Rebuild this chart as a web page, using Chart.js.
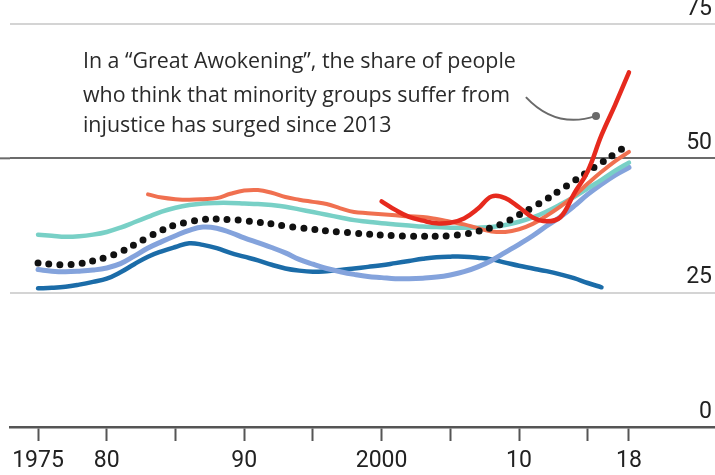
<!DOCTYPE html>
<html>
<head>
    <title>Great Awokening</title>
    <script src="https://cdn.jsdelivr.net/npm/chart.js"></script>
    <style>
        html, body { margin: 0; padding: 0; background: #fff; overflow: hidden; }
        /* a little taller than the window: the bottom of the x labels sits on the edge */
        .chart-wrap { width: 715px; height: 482px; position: relative; }
    </style>
</head>
<body>
    <div class="chart-wrap"><canvas id="myChart"></canvas></div>
    <script>
        // values, % of people
        const darkBlue = [25.8, 25.9, 26.1, 26.5, 27.0, 27.6, 28.8, 30.3, 31.7, 32.7, 33.5, 34.2, 33.9, 33.3, 32.4,
            31.7, 31.0, 30.2, 29.5, 29.1, 28.9, 29.0, 29.2, 29.5, 29.8, 30.1, 30.5, 30.9, 31.3, 31.6,
            31.7, 31.7, 31.5, 31.2, 30.6, 30.0, 29.5, 29.0, 28.4, 27.7, 26.8, 26.0];
        const lightBlue = [29.3, 29.0, 28.9, 29.0, 29.2, 29.6, 30.4, 31.8, 33.3, 34.5, 35.6, 36.6, 37.2, 37.0, 36.2,
            35.2, 34.3, 33.4, 32.4, 31.2, 30.3, 29.5, 28.9, 28.4, 28.0, 27.8, 27.6, 27.6, 27.7, 27.9,
            28.3, 28.9, 29.8, 31.0, 32.5, 34.0, 35.6, 37.4, 39.1, 41.1, 43.3, 45.2, 46.9, 48.3];
        const teal = [35.8, 35.6, 35.4, 35.5, 35.8, 36.3, 37.1, 38.1, 39.1, 40.1, 40.8, 41.3, 41.6, 41.7, 41.7,
            41.6, 41.5, 41.3, 41.0, 40.5, 40.0, 39.5, 39.0, 38.5, 38.2, 37.9, 37.7, 37.5, 37.3, 37.2,
            37.1, 37.1, 37.1, 37.2, 37.6, 38.2, 39.0, 40.1, 41.4, 42.8, 44.4, 46.0, 47.7, 49.2];
        // starts 1983
        const orange = [43.3, 42.7, 42.4, 42.3, 42.4, 42.6, 43.4, 44.0, 44.1, 43.6, 42.8, 42.3, 41.9, 41.5, 40.7,
            40.0, 39.8, 39.6, 39.4, 39.2, 39.1, 38.7, 38.2, 37.7, 37.0, 36.4, 36.3, 36.8, 37.8, 39.3,
            41.0, 43.0, 45.3, 47.5, 49.5, 51.2];
        // starts 2000
        const red = [42.0, 40.4, 39.1, 38.4, 37.9, 38.0, 38.8, 40.6, 42.9, 42.6, 40.9, 39.0, 38.3, 39.0, 43.4,
            47.6, 54.3, 60.0, 66.0];
        const average = [30.5, 30.3, 30.2, 30.4, 30.9, 31.6, 32.6, 33.9, 35.3, 36.6, 37.6, 38.2, 38.6, 38.7, 38.6,
            38.4, 38.1, 37.8, 37.4, 37.1, 36.8, 36.5, 36.3, 36.1, 35.9, 35.7, 35.6, 35.5, 35.5, 35.5,
            35.6, 35.9, 36.4, 37.1, 38.1, 39.5, 40.9, 42.4, 44.1, 45.8, 47.5, 49.2, 50.9, 52.6];

        const xTicks = [1975, 1980, 1985, 1990, 1995, 2000, 2005, 2010, 2015, 2018];
        const xLabels = { 1975: '1975', 1980: '80', 1990: '90', 2000: '2000', 2010: '10', 2018: '18' };
        const yTicks = [0, 25, 50, 75];

        const noteLines = ['In a \u201cGreat Awokening\u201d, the share of people',
            'who think that minority groups suffer from',
            'injustice has surged since 2013'];

        const toPoints = (start, vals) => vals.map((v, i) => ({ x: start + i, y: v }));

        const lineProps = {
            fill: false,
            tension: 0.4,
            pointRadius: 0,
            borderCapStyle: 'round',
        };
        const labelFont = { family: 'Roboto', size: 23, lineHeight: 1 };

        // annotation text and arrow
        const annotate = {
            id: 'annotate',
            afterDatasetsDraw(chart) {
                const { ctx, scales: { x, y } } = chart;
                ctx.save();
                ctx.fillStyle = '#2a2a2a';
                ctx.font = '21.4px "Open Sans"';
                ctx.textBaseline = 'alphabetic';
                ctx.textAlign = 'left';
                const tx = x.getPixelForValue(1978.27);
                const ty = [66.8, 60.5, 54.9];
                noteLines.forEach((t, i) => ctx.fillText(t, tx, y.getPixelForValue(ty[i])));

                ctx.strokeStyle = '#6a6a6a';
                ctx.lineWidth = 2;
                ctx.beginPath();
                ctx.moveTo(x.getPixelForValue(2010.5), y.getPixelForValue(61.4));
                ctx.quadraticCurveTo(x.getPixelForValue(2012.7), y.getPixelForValue(55.4),
                    x.getPixelForValue(2015.6), y.getPixelForValue(57.9));
                ctx.stroke();
                ctx.fillStyle = '#6a6a6a';
                ctx.beginPath();
                ctx.arc(x.getPixelForValue(2015.6), y.getPixelForValue(57.9), 4, 0, Math.PI * 2);
                ctx.fill();
                ctx.restore();
            },
            beforeDatasetsDraw(chart) {
                // 50 line runs to the left edge
                const { ctx, chartArea, scales: { y } } = chart;
                const py = y.getPixelForValue(50);
                ctx.save();
                ctx.strokeStyle = '#6b6b6b';
                ctx.lineWidth = 2;
                ctx.beginPath();
                ctx.moveTo(0, py);
                ctx.lineTo(chartArea.left, py);
                ctx.stroke();
                ctx.restore();
            }
        };

        new Chart(document.getElementById('myChart'), {
            type: 'line',
            data: {
                datasets: [
                    { data: toPoints(2000, red), borderColor: '#e62a1e', borderWidth: 4.5, ...lineProps },
                    { data: toPoints(1975, average), borderColor: '#111', borderWidth: 7, borderDash: [0, 11], ...lineProps },
                    { data: toPoints(1983, orange), borderColor: '#f07050', borderWidth: 4, ...lineProps },
                    { data: toPoints(1975, teal), borderColor: '#78d0c6', borderWidth: 4.5, ...lineProps },
                    { data: toPoints(1975, lightBlue), borderColor: '#84a3dc', borderWidth: 5, ...lineProps },
                    { data: toPoints(1975, darkBlue), borderColor: '#1b6ca8', borderWidth: 4.5, ...lineProps },
                ],
            },
            options: {
                responsive: true,
                maintainAspectRatio: false,
                animation: false,
                layout: { padding: { top: 24, left: 10, right: 0, bottom: 0 } },
                scales: {
                    x: {
                        type: 'linear',
                        min: 1972.96,
                        max: 2024.26,
                        afterBuildTicks: (s) => { s.ticks = xTicks.map(v => ({ value: v })); },
                        grid: {
                            drawOnChartArea: false,
                            drawTicks: true,
                            tickLength: 14,
                            tickWidth: 2,
                            tickColor: '#555',
                        },
                        border: { display: true, color: '#555', width: 2.5 },
                        ticks: {
                            autoSkip: false,
                            maxRotation: 0,
                            padding: 9,
                            color: '#222',
                            font: labelFont,
                            callback: (v) => xLabels[v] || '',
                        },
                    },
                    y: {
                        position: 'right',
                        min: 0,
                        max: 75,
                        afterBuildTicks: (s) => { s.ticks = yTicks.map(v => ({ value: v })); },
                        afterFit: (s) => { s.width = 0; },
                        grid: {
                            drawTicks: false,
                            color: (c) => c.tick.value === 50 ? '#6b6b6b' : '#d4d4d4',
                            lineWidth: 2,
                        },
                        border: { display: false },
                        ticks: {
                            mirror: true,
                            padding: -3,
                            labelOffset: -15,
                            color: '#222',
                            font: labelFont,
                        },
                    },
                },
                plugins: {
                    legend: { display: false },
                    tooltip: { enabled: false },
                },
            },
            plugins: [annotate],
        });
    </script>
</body>
</html>
